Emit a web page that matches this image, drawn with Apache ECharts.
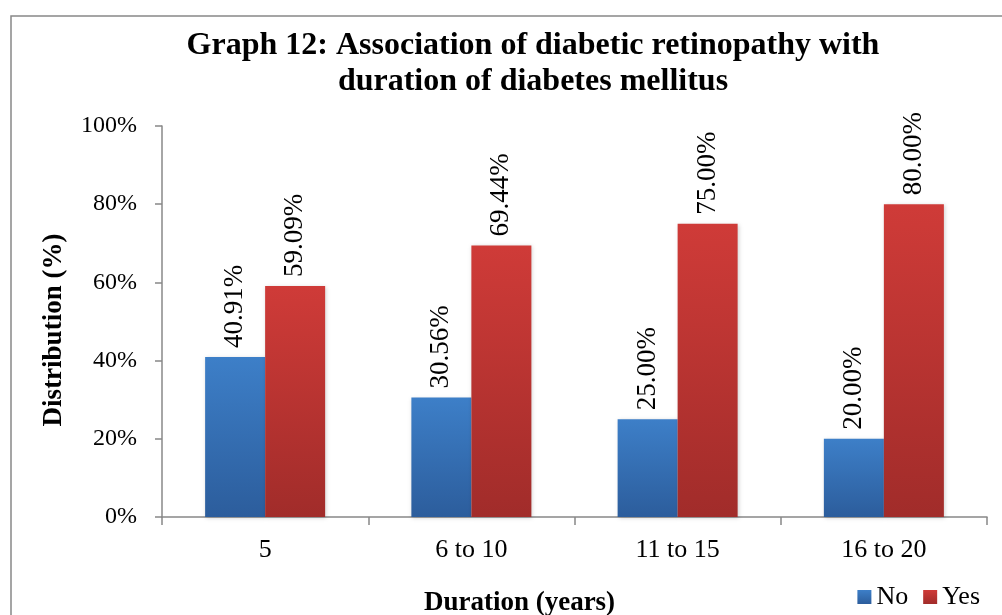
<!DOCTYPE html>
<html>
<head>
<meta charset="utf-8">
<script src="https://cdn.jsdelivr.net/npm/echarts@6/dist/echarts.min.js"></script>
<style>
  html, body { margin: 0; padding: 0; background: #fff; }
  #chart { width: 1002px; height: 615px; }
</style>
</head>
<body>
<div id="chart"></div>
<script>
// Duration groups and percentage of patients with / without retinopathy
const categories = ['5', '6 to 10', '11 to 15', '16 to 20'];
const noValues = [40.91, 30.56, 25.00, 20.00];
const yesValues = [59.09, 69.44, 75.00, 80.00];
const yTicks = [0, 20, 40, 60, 80, 100];

const serif = '"Liberation Serif", "Times New Roman", serif';

function grad(top, bottom) {
  return new echarts.graphic.LinearGradient(0, 0, 0, 1, [
    { offset: 0, color: top },
    { offset: 1, color: bottom }
  ]);
}

const labelStyle = {
  show: true,
  position: 'top',
  rotate: 90,
  align: 'left',
  verticalAlign: 'middle',
  distance: 9,
  fontFamily: serif,
  fontSize: 27,
  color: '#000',
  formatter: p => p.value.toFixed(2) + '%'
};

const chart = echarts.init(document.getElementById('chart'), null, { renderer: 'canvas' });
chart.setOption({
  animation: false,
  backgroundColor: '#fff',
  title: {
    text: 'Graph 12: Association of diabetic retinopathy with\nduration of diabetes mellitus',
    left: 528,
    top: 23,
    textAlign: 'center',
    textStyle: {
      fontFamily: serif,
      fontWeight: 'bold',
      fontSize: 32,
      lineHeight: 36,
      color: '#000'
    }
  },
  graphic: [{
    type: 'rect',
    shape: { x: 11, y: 16, width: 1100, height: 700 },
    style: { fill: 'none', stroke: '#888', lineWidth: 1.5 },
    silent: true,
    z: -1
  }],
  legend: {
    right: 22,
    top: 584,
    padding: 0,
    itemWidth: 14,
    itemHeight: 14,
    itemGap: 15,
    icon: 'rect',
    textStyle: { fontFamily: serif, fontSize: 26, color: '#000' },
    data: ['No', 'Yes']
  },
  grid: { left: 162, right: 15, top: 126, bottom: 98, outerBoundsMode: 'none', containLabel: false },
  xAxis: {
    type: 'category',
    data: categories,
    name: 'Duration (years)',
    nameLocation: 'middle',
    nameGap: 73,
    nameTextStyle: {
      fontFamily: serif, fontWeight: 'bold', fontSize: 27, color: '#000',
      padding: [0, 110, 0, 0]
    },
    axisLine: { lineStyle: { color: '#888', width: 1.5 } },
    axisTick: { show: true, length: 8, lineStyle: { color: '#888', width: 1.5 } },
    axisLabel: { fontFamily: serif, fontSize: 26, color: '#000', margin: 20 }
  },
  yAxis: {
    type: 'value',
    min: 0,
    max: 100,
    interval: 20,
    name: 'Distribution (%)',
    nameLocation: 'middle',
    nameGap: 94,
    nameTextStyle: {
      fontFamily: serif, fontWeight: 'bold', fontSize: 27, color: '#000',
      padding: [0, 17, 0, 0]
    },
    axisLine: { show: true, lineStyle: { color: '#888', width: 1.5 } },
    axisTick: { show: true, length: 7, lineStyle: { color: '#888', width: 1.5 } },
    splitLine: { show: false },
    axisLabel: {
      fontFamily: serif, fontSize: 24, color: '#000', margin: 25,
      formatter: v => (yTicks.includes(v) ? v + '%' : '')
    }
  },
  series: [
    {
      name: 'No',
      type: 'bar',
      data: noValues,
      barWidth: 60,
      barGap: '0%',
      itemStyle: {
        color: grad('#3d7fc8', '#2c5d9c'),
        shadowColor: 'rgba(0,0,0,0.18)', shadowBlur: 4, shadowOffsetX: 1, shadowOffsetY: 1
      },
      label: labelStyle
    },
    {
      name: 'Yes',
      type: 'bar',
      data: yesValues,
      barWidth: 60,
      itemStyle: {
        color: grad('#cf3b38', '#a12c2a'),
        shadowColor: 'rgba(0,0,0,0.18)', shadowBlur: 4, shadowOffsetX: 1, shadowOffsetY: 1
      },
      label: labelStyle
    }
  ]
});
</script>
</body>
</html>
